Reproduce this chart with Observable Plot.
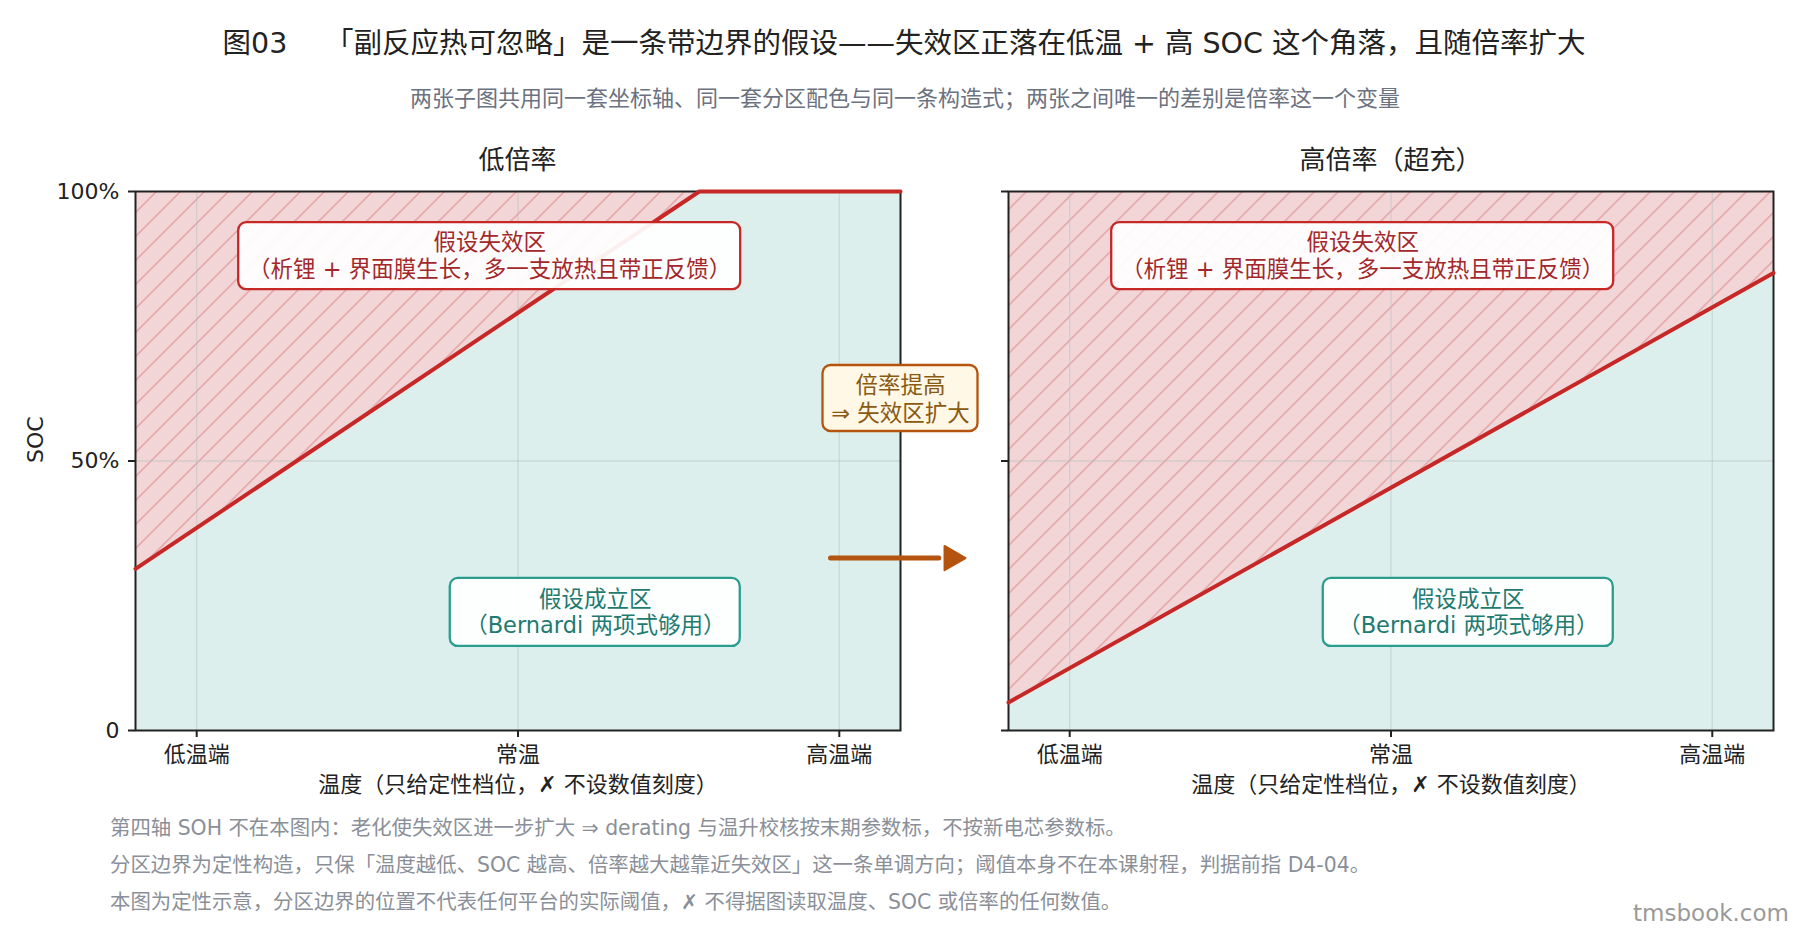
<!DOCTYPE html>
<html>
<head>
<meta charset="utf-8">
<script src="https://cdn.jsdelivr.net/npm/d3@7"></script>
<script src="https://cdn.jsdelivr.net/npm/@observablehq/plot@0.6"></script>
<style>
  html, body { margin: 0; padding: 0; background: #fff; }
  body { font-family: "DejaVu Sans", "Noto Sans CJK SC", sans-serif; }
  #root { position: relative; width: 1800px; height: 930px; overflow: hidden; }
  .txt { position: absolute; white-space: pre; }
  .plotbox { position: absolute; }
</style>
</head>
<body>
<svg width="0" height="0" style="position:absolute">
  <defs>
    <pattern id="hatch" patternUnits="userSpaceOnUse" width="24" height="24">
      <rect width="24" height="24" fill="#f2d5d6"></rect>
      <path d="M-6,6 L6,-6 M0,24 L24,0 M18,30 L30,18" stroke="#e8abad" stroke-width="1.7"></path>
    </pattern>
  </defs>
</svg>
<div id="root"></div>
<script>
// ---------------- data ----------------
const titleText = "图03\u3000 「副反应热可忽略」是一条带边界的假设——失效区正落在低温 + 高 SOC 这个角落，且随倍率扩大";
const subtitleText = "两张子图共用同一套坐标轴、同一套分区配色与同一条构造式；两张之间唯一的差别是倍率这一个变量";
const panelTitles = ["低倍率", "高倍率（超充）"];
const tempPos = [0.08, 0.5, 0.92];
const tempLabels = ["低温端", "常温", "高温端"];
const socTicks = [0, 0.5, 1];
const socTickLabels = ["0", "50%", "100%"];
const xAxisLabel = "温度（只给定性档位，✗ 不设数值刻度）";
const yAxisLabel = "SOC";
// boundary (temperature position → SOC) for each rate
const lowRateT = [0, 0.737, 1];
const lowRateSoc = [0.30, 1.0, 1.0];
const highRateT = [0, 1];
const highRateSoc = [0.052, 0.849];
const failLabel = "假设失效区\n（析锂 + 界面膜生长，多一支放热且带正反馈）";
const okLabel = "假设成立区\n（Bernardi 两项式够用）";
const calloutLabel = "倍率提高\n⇒ 失效区扩大";
const notes = [
  "第四轴 SOH 不在本图内：老化使失效区进一步扩大 ⇒ derating 与温升校核按末期参数标，不按新电芯参数标。",
  "分区边界为定性构造，只保「温度越低、SOC 越高、倍率越大越靠近失效区」这一条单调方向；阈值本身不在本课射程，判据前指 D4-04。",
  "本图为定性示意，分区边界的位置不代表任何平台的实际阈值，✗ 不得据图读取温度、SOC 或倍率的任何数值。"
];
const watermark = "tmsbook.com";

// ---------------- layout ----------------
const FONT = '"DejaVu Sans", "Noto Sans CJK SC", sans-serif';
const FW = 765, FH = 539, FTOP = 191;
const RED = "#c62828", TEAL = "#2a9d8f", ORANGE = "#b5540f";

const root = document.getElementById("root");
function addText(str, {left, top, width, size, color, lh, align, right}) {
  const d = document.createElement("div");
  d.className = "txt";
  d.textContent = str;
  d.style.fontSize = size + "px";
  d.style.lineHeight = lh + "px";
  d.style.top = top + "px";
  d.style.color = color;
  if (right != null) d.style.right = right + "px";
  else d.style.left = left + "px";
  if (width != null) { d.style.width = width + "px"; }
  if (align) d.style.textAlign = align;
  root.appendChild(d);
}
addText(titleText, {left: 0, width: 1808, top: 25, size: 28.5, lh: 38, color: "#222", align: "center"});
addText(subtitleText, {left: 0, width: 1810, top: 86, size: 22, lh: 26, color: "#6b7280", align: "center"});
addText(panelTitles[0], {left: 517.5 - 300, width: 600, top: 144, size: 26, lh: 32, color: "#222", align: "center"});
addText(panelTitles[1], {left: 1390.5 - 300, width: 600, top: 144, size: 26, lh: 32, color: "#222", align: "center"});
notes.forEach((n, i) => addText(n, {left: 110, top: 828 + i * 37 - 13, size: 20.4, lh: 26, color: "#8a8f98"}));
addText(watermark, {right: 11, top: 899, size: 23, lh: 28, color: "#9a9a9a"});

function boxRect(cx, cy, w, h) {
  return {x1: cx - w / 2 / FW, x2: cx + w / 2 / FW, y1: cy - h / 2 / FH, y2: cy + h / 2 / FH};
}

function panel({T, S, showYLabels, marginLeft, width, callout}) {
  const rows = T.map((t, i) => ({T: t, soc: S[i]}));
  const marginTop = FTOP - 180;
  const height = 640;
  const marginRight = width - marginLeft - FW;
  const marginBottom = height - marginTop - FH;
  const fb = boxRect(0.463, 0.880, 502, 67);
  const ob = boxRect(0.601, 0.219, 290, 68);
  const marks = [
    Plot.areaY(rows, {x: "T", y1: 0, y2: "soc", fill: "#dcefec"}),
    Plot.areaY(rows, {x: "T", y1: "soc", y2: 1, fill: "url(#hatch)"}),
    Plot.gridX(tempPos, {stroke: "#b9c4c2", strokeOpacity: 0.5, strokeWidth: 1.3}),
    Plot.gridY([0.5], {stroke: "#b9c4c2", strokeOpacity: 0.5, strokeWidth: 1.3}),
    Plot.frame({stroke: "#222", strokeWidth: 2}),
    Plot.line(rows, {x: "T", y: "soc", stroke: RED, strokeWidth: 4}),
    Plot.axisX(tempPos, {tickSize: 7, tickPadding: 9, strokeWidth: 2, stroke: "#222", fill: "#222", fontSize: 22,
      tickFormat: d => tempLabels[tempPos.indexOf(d)], label: null}),
    Plot.axisY(socTicks, {tickSize: 7, tickPadding: 9, strokeWidth: 2, stroke: "#222", fill: "#222", fontSize: 22,
      tickFormat: d => showYLabels ? socTickLabels[socTicks.indexOf(d)] : "", label: null}),
    Plot.text([xAxisLabel], {frameAnchor: "bottom", dy: 61, fontSize: 22, fill: "#222", fontFamily: FONT}),
    Plot.rect([fb], {x1: "x1", x2: "x2", y1: "y1", y2: "y2", fill: "#ffffff", fillOpacity: 0.93, stroke: RED, strokeWidth: 2.3, rx: 8}),
    Plot.text([failLabel], {x: 0.463, y: 0.882, fontSize: 22.5, lineHeight: 1.2, fill: "#a3282b", fontFamily: FONT}),
    Plot.rect([ob], {x1: "x1", x2: "x2", y1: "y1", y2: "y2", fill: "#ffffff", fillOpacity: 0.93, stroke: TEAL, strokeWidth: 2.3, rx: 8}),
    Plot.text([okLabel], {x: 0.601, y: 0.221, fontSize: 22.5, lineHeight: 1.18, fill: "#1f7a70", fontFamily: FONT})
  ];
  if (showYLabels) {
    marks.push(Plot.text([yAxisLabel], {frameAnchor: "left", dx: -100, dy: 2, rotate: -90, fontSize: 22, fill: "#222", fontFamily: FONT}));
  }
  if (callout) {
    const cb = boxRect(1.0, 0.616, 155, 66);
    marks.push(
      Plot.rect([cb], {x1: "x1", x2: "x2", y1: "y1", y2: "y2", fill: "#fff8e7", stroke: ORANGE, strokeWidth: 2.3, rx: 8}),
      Plot.text([calloutLabel], {x: 1.0, y: 0.616, fontSize: 22.5, lineHeight: 1.24, fill: "#8a5a12", fontFamily: FONT}),
      Plot.link({length: 1}, {x1: 0.9085, y1: 0.32, x2: 1.05, y2: 0.32, stroke: ORANGE, strokeWidth: 5, strokeLinecap: "round"}),
      Plot.dot({length: 1}, {x: 1.0667, y: 0.32, symbol: "triangle", r: 9, rotate: 90, fill: ORANGE, stroke: ORANGE, strokeWidth: 2, strokeLinejoin: "round"})
    );
  }
  return Plot.plot({
    width, height, marginLeft, marginRight, marginTop, marginBottom,
    x: {domain: [0, 1]},
    y: {domain: [0, 1]},
    style: {fontFamily: FONT, fontSize: "22px", background: "transparent", color: "#222", overflow: "visible"},
    marks
  });
}

const left = panel({T: lowRateT, S: lowRateSoc, showYLabels: true, marginLeft: 135, width: 990, callout: true});
const right = panel({T: highRateT, S: highRateSoc, showYLabels: false, marginLeft: 18, width: 810, callout: false});
const lw = document.createElement("div"); lw.className = "plotbox"; lw.style.left = "0px"; lw.style.top = "180px"; lw.appendChild(left);
const rw = document.createElement("div"); rw.className = "plotbox"; rw.style.left = "990px"; rw.style.top = "180px"; rw.appendChild(right);
root.appendChild(lw);
root.appendChild(rw);
</script>
</body>
</html>
